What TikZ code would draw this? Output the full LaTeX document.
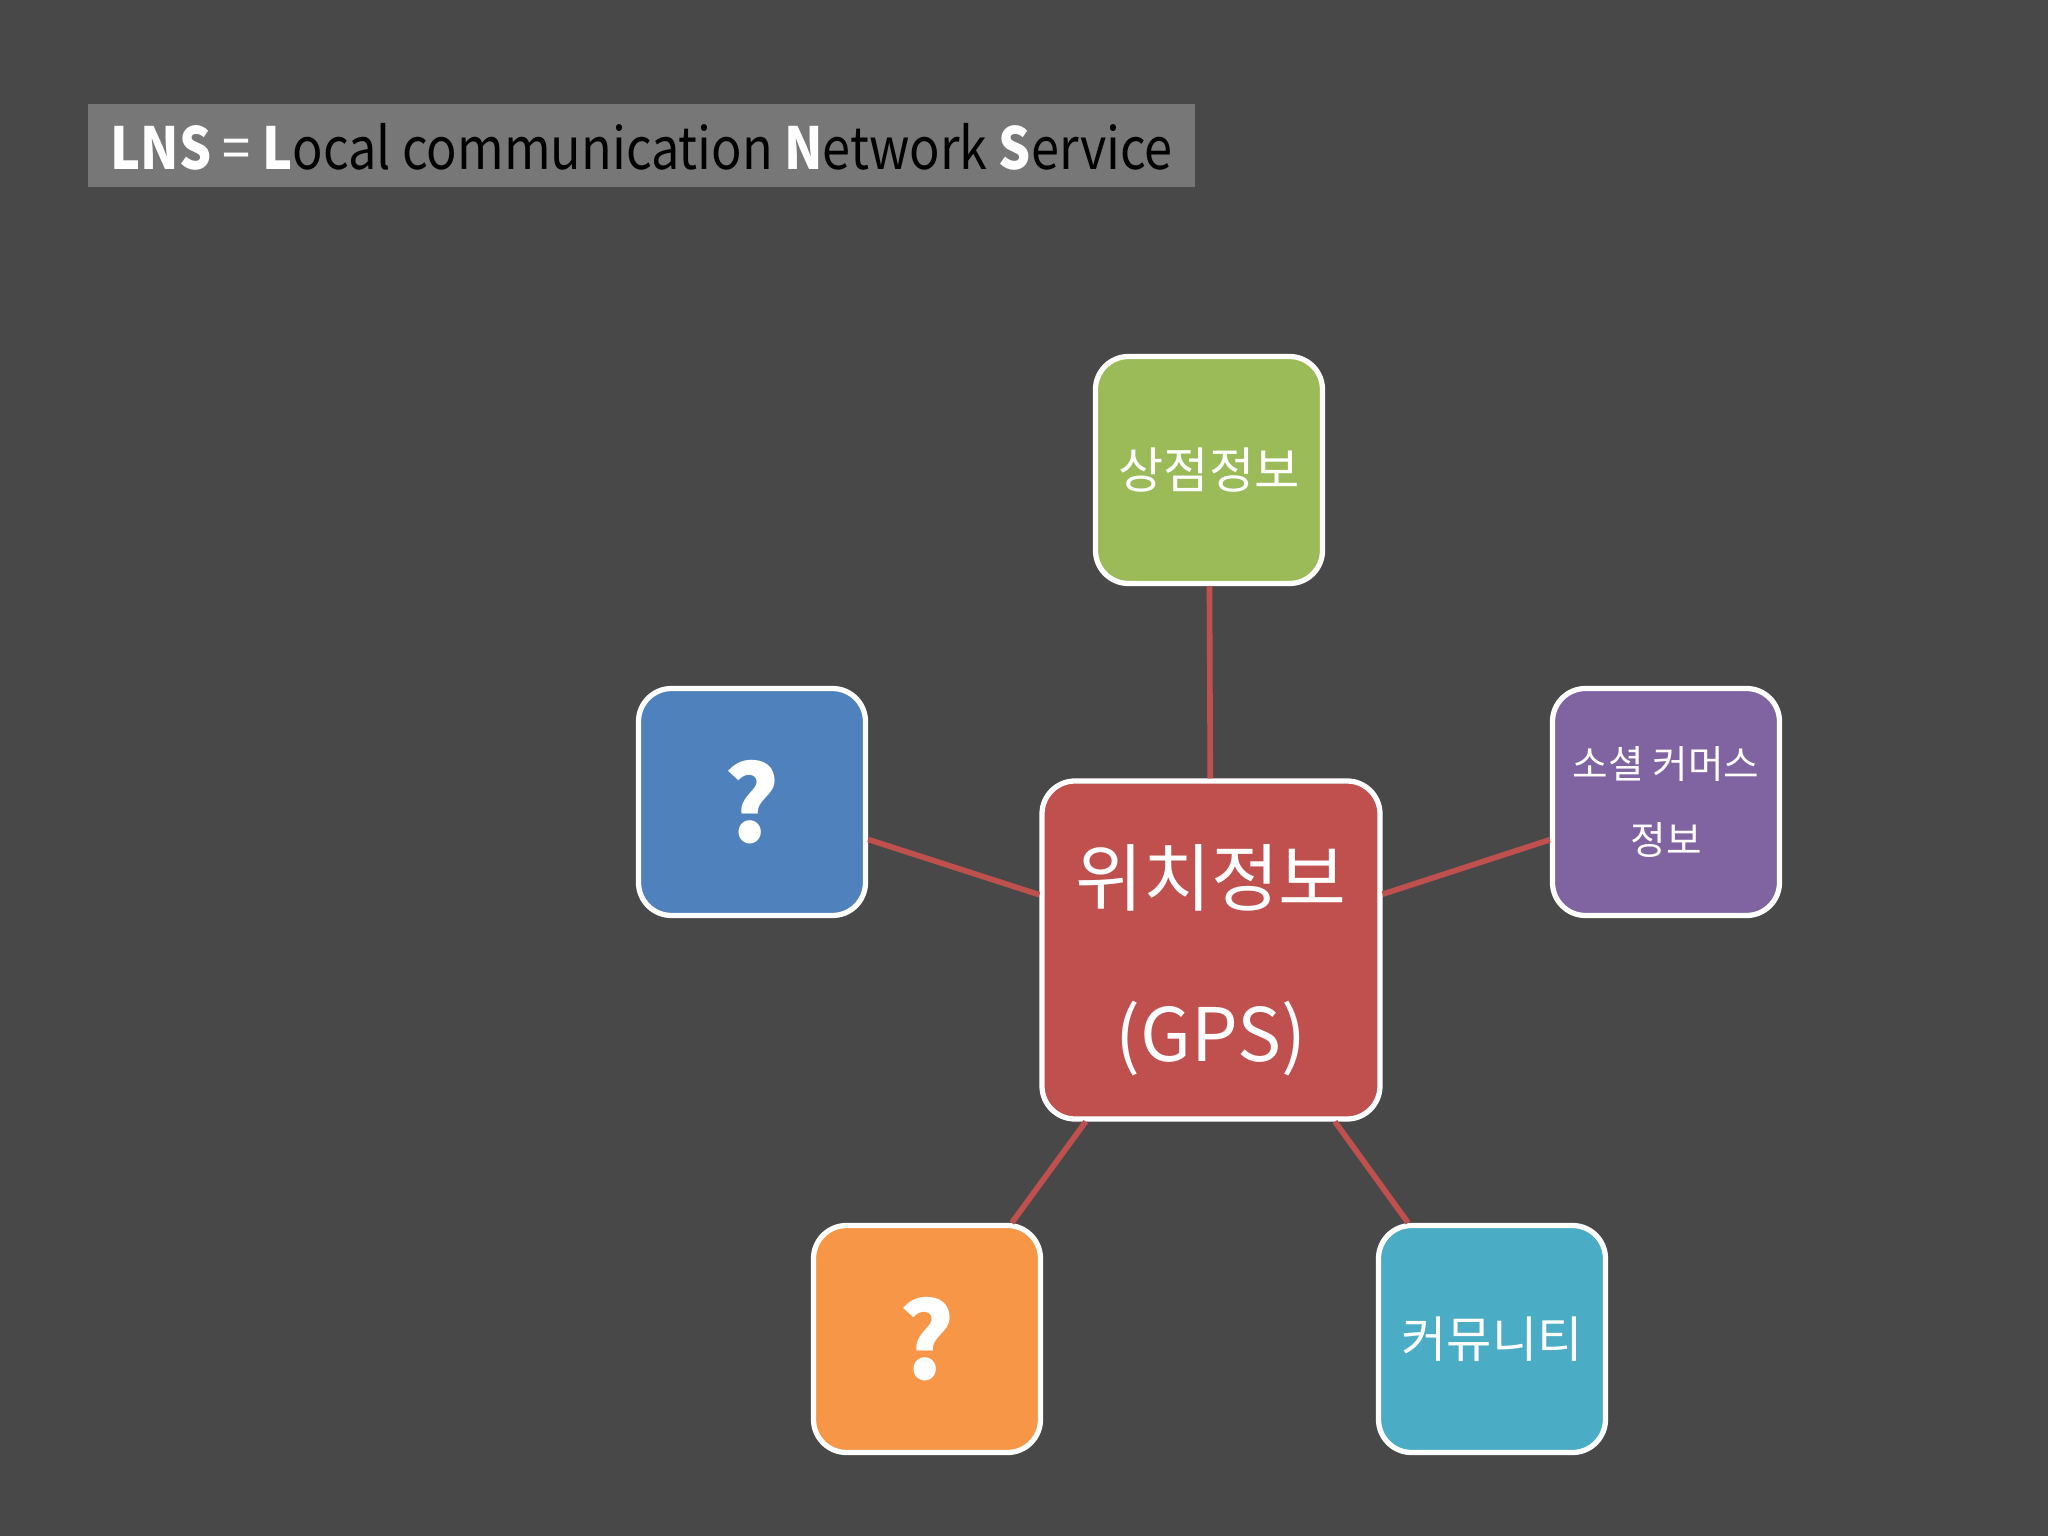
\documentclass[tikz,border=0pt]{standalone}
\usepackage{fontspec}
\setmainfont{Noto Sans CJK KR}
\newfontfamily\titlefont[FakeStretch=0.87]{Noto Sans CJK KR}
\usepackage{tikz}

\definecolor{bgcol}{HTML}{484848}
\definecolor{titlecol}{HTML}{777777}
\definecolor{gpsred}{HTML}{C0504D}
\definecolor{shopgreen}{HTML}{9BBB59}
\definecolor{askblue}{HTML}{4F81BD}
\definecolor{socialpurple}{HTML}{8064A2}
\definecolor{askorange}{HTML}{F79646}
\definecolor{commcyan}{HTML}{4BACC6}

\tikzset{
	infobox/.style={draw=white, line width=1.5pt, rounded corners=0.33cm,
		minimum size=2.27cm, align=center, text=white, inner sep=2pt},
	link/.style={draw=gpsred, line width=1.6pt}
}

\begin{document}
\begin{tikzpicture}
		\fill[bgcol] (0,0) rectangle (20.48,-15.36);
		\useasboundingbox (0,0) rectangle (20.48,-15.36);
		
		\fill[titlecol] (0.875,-1.045) rectangle (11.95,-1.87);
		\node[anchor=west, inner sep=0pt, font=\titlefont\fontsize{16.5}{20}\selectfont] (title) at (1.1,-1.47)
			{\textcolor{white}{\textbf{LNS}} \textcolor{white}{=} \textcolor{white}{\textbf{L}}ocal communication \textcolor{white}{\textbf{N}}etwork \textcolor{white}{\textbf{S}}ervice};
		
		\node[infobox, fill=gpsred, minimum size=3.38cm] (gps) at (12.11,-9.5) {};
		\node[text=white, align=center, font=\fontsize{21}{26}\selectfont] (gpstext) at ([yshift=-0.1cm]gps.center)
			{위치정보\\[0.65cm](GPS)};
		
		\node[infobox, fill=shopgreen, font=\fontsize{14}{17}\selectfont] (shop) at (12.09,-4.70) {상점정보};
		\node[infobox, fill=askblue, font=\bfseries\fontsize{30}{34}\selectfont] (askA) at (7.52,-8.02) {?};
		\node[infobox, fill=socialpurple, font=\fontsize{11}{13}\selectfont] (social) at (16.66,-8.02) {소셜 커머스\\[0.3cm]정보};
		\node[infobox, fill=askorange, font=\bfseries\fontsize{30}{34}\selectfont] (askB) at (9.27,-13.39) {?};
		\node[infobox, fill=commcyan, font=\fontsize{14}{17}\selectfont] (comm) at (14.92,-13.39) {커뮤니티};
		
		\draw[link] (shop) -- (gps);
		\draw[link] (askA) -- (gps);
		\draw[link] (social) -- (gps);
		\draw[link] (askB) -- (gps);
		\draw[link] (comm) -- (gps);
\end{tikzpicture}
\end{document}
